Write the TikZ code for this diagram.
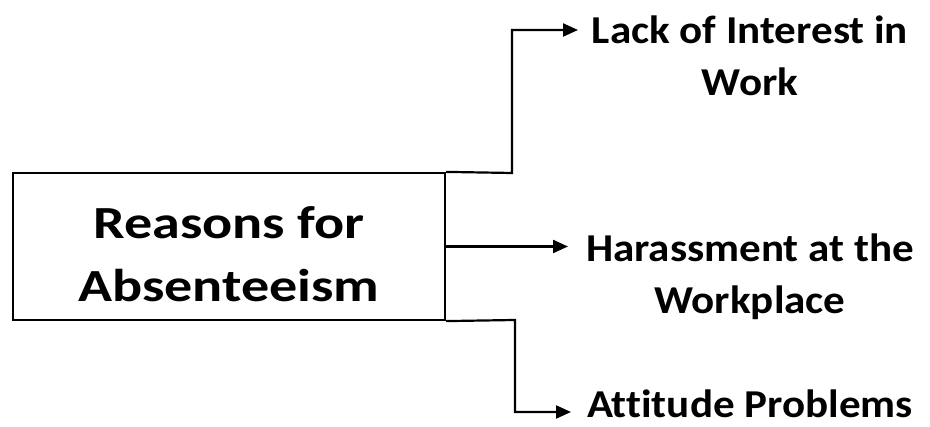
\documentclass[tikz,border=0pt]{standalone}
\usepackage{fontspec}
\setmainfont{Carlito}[Ligatures=NoCommon]
\newfontfamily\boxfont{Carlito}[FakeStretch=1.22, Ligatures=NoCommon]
\newfontfamily\causefont{Carlito}[FakeStretch=1.09, Ligatures=NoCommon]
\usetikzlibrary{arrows.meta}
\begin{document}
\begin{tikzpicture}[
  x = 1pt, y = 1pt,
  reasonbox/.style={draw, line width=2.2pt, minimum width=432pt, minimum height=147pt, inner sep=0pt, font=\boxfont\bfseries\fontsize{46}{63}\selectfont},
  cause/.style={inner sep=0pt, anchor=north, font=\causefont\bfseries\fontsize{39.5}{52}\selectfont},
  link/.style={line width=2.2pt, -{Triangle[length=15pt,width=13pt]}},
  every text node part/.style={align=center}
]
%general params
\def\topx{512}  %top branch x
\def\botx{515}  %bottom branch x
\def\labx{750}  %label centre x

%frame
\useasboundingbox (0,0) rectangle (930,427);

%box
\node[reasonbox] (reasons) at (229,180.5) {\rule{0pt}{48pt}Reasons for\\Absenteeism};

%arrow tips
\coordinate (tipI) at (578,397);
\coordinate (tipH) at (568,180.5);
\coordinate (tipA) at (571,15);

%labels
\node[cause] (interest) at (\labx,411) {Lack of Interest in\\Work};
\node[cause] (harass) at (\labx,193) {Harassment at the\\Workplace};
\node[cause] (attitude) at (\labx,37) {Attitude Problems};

%links
\draw[link] (reasons.north east) -- (\topx,254) |- (tipI);
\draw[link] (reasons.east) -- (tipH);
\draw[link] (reasons.south east) -- (\botx,107) |- (tipA);

\end{tikzpicture}
\end{document}
